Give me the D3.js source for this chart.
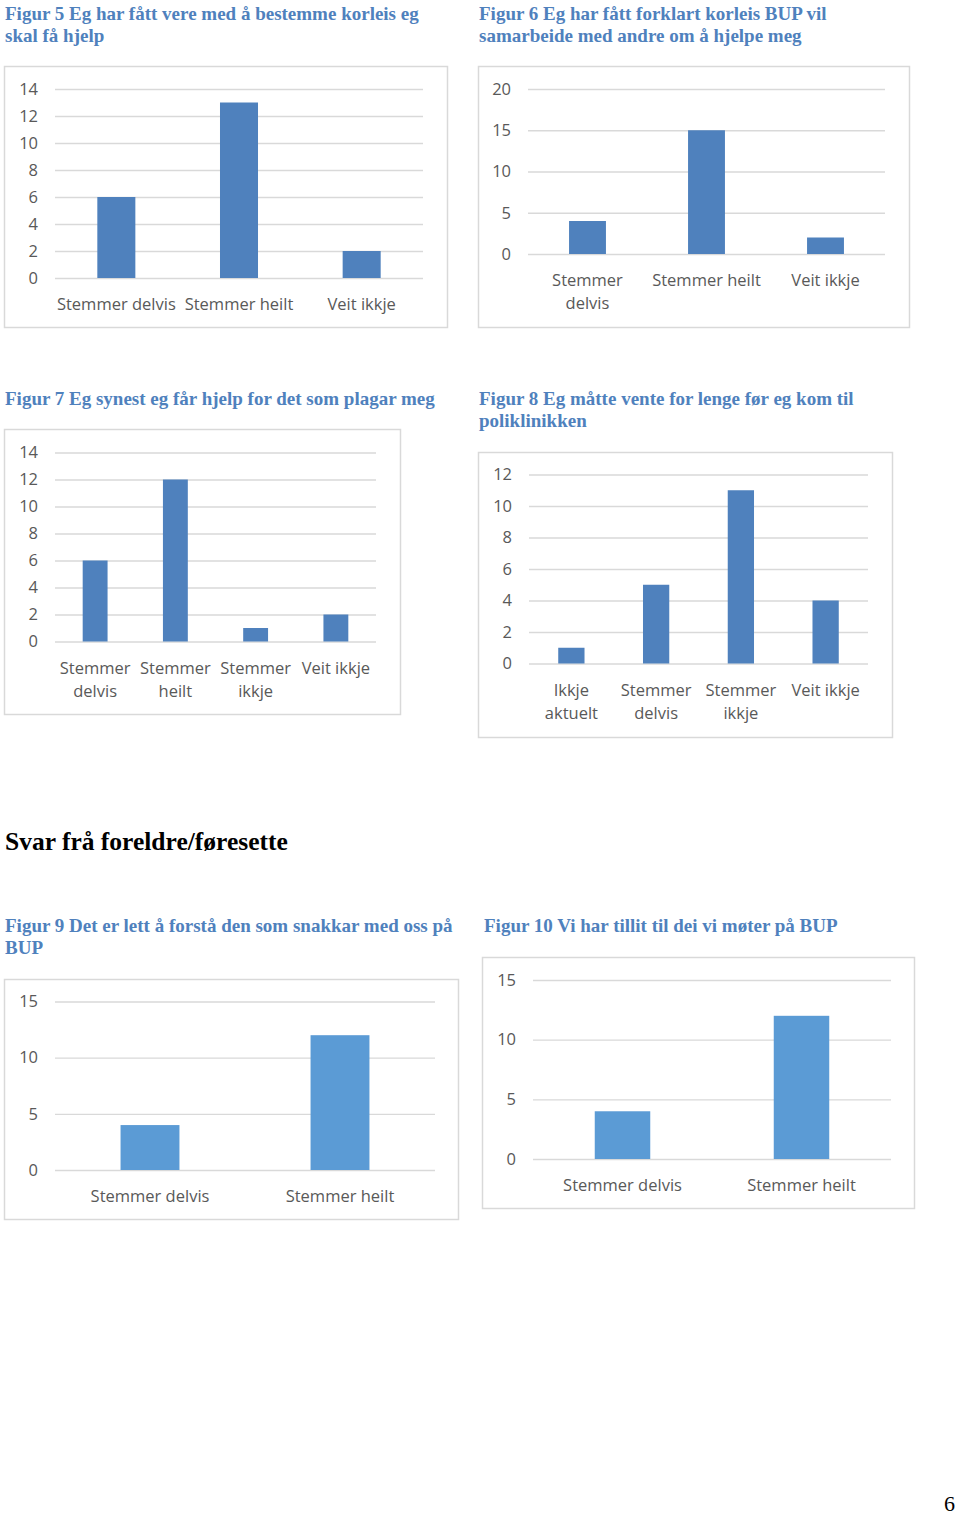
<!DOCTYPE html>
<html>
<head>
<meta charset="utf-8">
<script src="https://cdn.jsdelivr.net/npm/d3@7"></script>
<style>
  body { margin: 0; background: #fff; }
  .title { font-family: "Liberation Serif", serif; font-weight: bold; font-size: 19px; fill: #4f81bd; }
  .heading { font-family: "Liberation Serif", serif; font-weight: bold; font-size: 25.5px; fill: #000; }
  .tick text, .cat { font-family: "Open Sans", sans-serif; font-size: 16.5px; fill: #595959; }
</style>
</head>
<body>
<div id="wrapper"></div>
<script>
//* Data
const title5 = ["Figur 5 Eg har fått vere med å bestemme korleis eg", "skal få hjelp"];
const categories5 = ["Stemmer delvis", "Stemmer heilt", "Veit ikkje"];
const values5 = [6, 13, 2];
const ticks5 = [0, 2, 4, 6, 8, 10, 12, 14];

const title6 = ["Figur 6 Eg har fått forklart korleis BUP vil", "samarbeide med andre om å hjelpe meg"];
const categories6 = ["Stemmer\ndelvis", "Stemmer heilt", "Veit ikkje"];
const values6 = [4, 15, 2];
const ticks6 = [0, 5, 10, 15, 20];

const title7 = ["Figur 7 Eg synest eg får hjelp for det som plagar meg"];
const categories7 = ["Stemmer\ndelvis", "Stemmer\nheilt", "Stemmer\nikkje", "Veit ikkje"];
const values7 = [6, 12, 1, 2];
const ticks7 = [0, 2, 4, 6, 8, 10, 12, 14];

const title8 = ["Figur 8 Eg måtte vente for lenge før eg kom til", "poliklinikken"];
const categories8 = ["Ikkje\naktuelt", "Stemmer\ndelvis", "Stemmer\nikkje", "Veit ikkje"];
const values8 = [1, 5, 11, 4];
const ticks8 = [0, 2, 4, 6, 8, 10, 12];

const title9 = ["Figur 9 Det er lett å forstå den som snakkar med oss på", "BUP"];
const categories9 = ["Stemmer delvis", "Stemmer heilt"];
const values9 = [4, 12];
const ticks9 = [0, 5, 10, 15];

const title10 = ["Figur 10 Vi har tillit til dei vi møter på BUP"];
const categories10 = ["Stemmer delvis", "Stemmer heilt"];
const values10 = [4, 12];
const ticks10 = [0, 5, 10, 15];

const heading = "Svar frå foreldre/føresette";
const pageNumber = "6";

//* Layout (page positions of each figure)
const charts = [
  { title: title5, cats: categories5, vals: values5, ticks: ticks5, color: "#4f81bd",
    tx: 5, ty: 20, box: [4, 66, 447, 327], x0: 55, x1: 423, yTop: 89, yZero: 278 },
  { title: title6, cats: categories6, vals: values6, ticks: ticks6, color: "#4f81bd",
    tx: 479, ty: 20, box: [478, 66, 909, 327], x0: 528, x1: 885, yTop: 89, yZero: 254 },
  { title: title7, cats: categories7, vals: values7, ticks: ticks7, color: "#4f81bd",
    tx: 5, ty: 405, box: [4, 429, 400, 714], x0: 55, x1: 376, yTop: 452.5, yZero: 641.5 },
  { title: title8, cats: categories8, vals: values8, ticks: ticks8, color: "#4f81bd",
    tx: 479, ty: 405, box: [478, 452, 892, 737], x0: 529, x1: 868, yTop: 474.5, yZero: 663.5 },
  { title: title9, cats: categories9, vals: values9, ticks: ticks9, color: "#5b9bd5",
    tx: 5, ty: 932, box: [4, 979, 458, 1219], x0: 55, x1: 435, yTop: 1001.5, yZero: 1170 },
  { title: title10, cats: categories10, vals: values10, ticks: ticks10, color: "#5b9bd5",
    tx: 484, ty: 932, box: [482, 957, 914, 1208], x0: 533, x1: 891, yTop: 980, yZero: 1159 },
];

const svg = d3.select("#wrapper").append("svg")
  .attr("width", 960)
  .attr("height", 1515);

function drawChart(c) {
  const g = svg.append("g");

  // caption above the chart
  g.append("text")
    .attr("class", "title")
    .attr("x", c.tx)
    .attr("y", c.ty)
    .selectAll("tspan")
    .data(c.title)
    .join("tspan")
    .attr("x", c.tx)
    .attr("dy", (d, i) => (i === 0 ? 0 : 21.5))
    .text((d) => d);

  // chart frame
  g.append("rect")
    .attr("x", c.box[0] + 0.5)
    .attr("y", c.box[1] + 0.5)
    .attr("width", c.box[2] - c.box[0])
    .attr("height", c.box[3] - c.box[1])
    .attr("fill", "#fff")
    .attr("stroke", "#d9d9d9")
    .attr("stroke-width", 1.5);

  const xScale = d3.scaleBand()
    .domain(c.cats)
    .range([c.x0, c.x1])
    .paddingInner(0.69)
    .paddingOuter(0.345);

  const yScale = d3.scaleLinear()
    .domain([0, d3.max(c.ticks)])
    .range([c.yZero, c.yTop]);

  const yAxis = g.append("g")
    .attr("transform", `translate(${c.x0},0)`)
    .call(d3.axisLeft(yScale)
      .tickValues(c.ticks)
      .tickSizeInner(-(c.x1 - c.x0))
      .tickSizeOuter(0)
      .tickPadding(17));
  yAxis.select(".domain").remove();
  yAxis.selectAll(".tick line").attr("stroke", "#d9d9d9").attr("stroke-width", 1.3);
  yAxis.selectAll(".tick text").attr("fill", "#595959");

  g.selectAll(".bar")
    .data(c.cats)
    .join("rect")
    .attr("class", "bar")
    .attr("x", (d) => xScale(d))
    .attr("width", xScale.bandwidth())
    .attr("y", (d, i) => yScale(c.vals[i]))
    .attr("height", (d, i) => yScale(0) - yScale(c.vals[i]))
    .attr("fill", c.color);

  // category labels (may wrap to two lines)
  const cat = g.selectAll(".cat")
    .data(c.cats)
    .join("text")
    .attr("class", "cat")
    .attr("text-anchor", "middle")
    .attr("dominant-baseline", "central")
    .attr("y", c.yZero + 25);
  cat.selectAll("tspan")
    .data((d) => d.split("\n").map((t) => ({ t, x: xScale(d) + xScale.bandwidth() / 2 })))
    .join("tspan")
    .attr("x", (d) => d.x)
    .attr("dy", (d, i) => (i === 0 ? 0 : 23))
    .text((d) => d.t);
}

charts.forEach(drawChart);

svg.append("text")
  .attr("class", "heading")
  .attr("x", 5)
  .attr("y", 850)
  .text(heading);

svg.append("text")
  .attr("x", 955)
  .attr("y", 1511)
  .attr("text-anchor", "end")
  .style("font-family", "Liberation Serif, serif")
  .style("font-size", "22px")
  .text(pageNumber);
</script>
</body>
</html>
